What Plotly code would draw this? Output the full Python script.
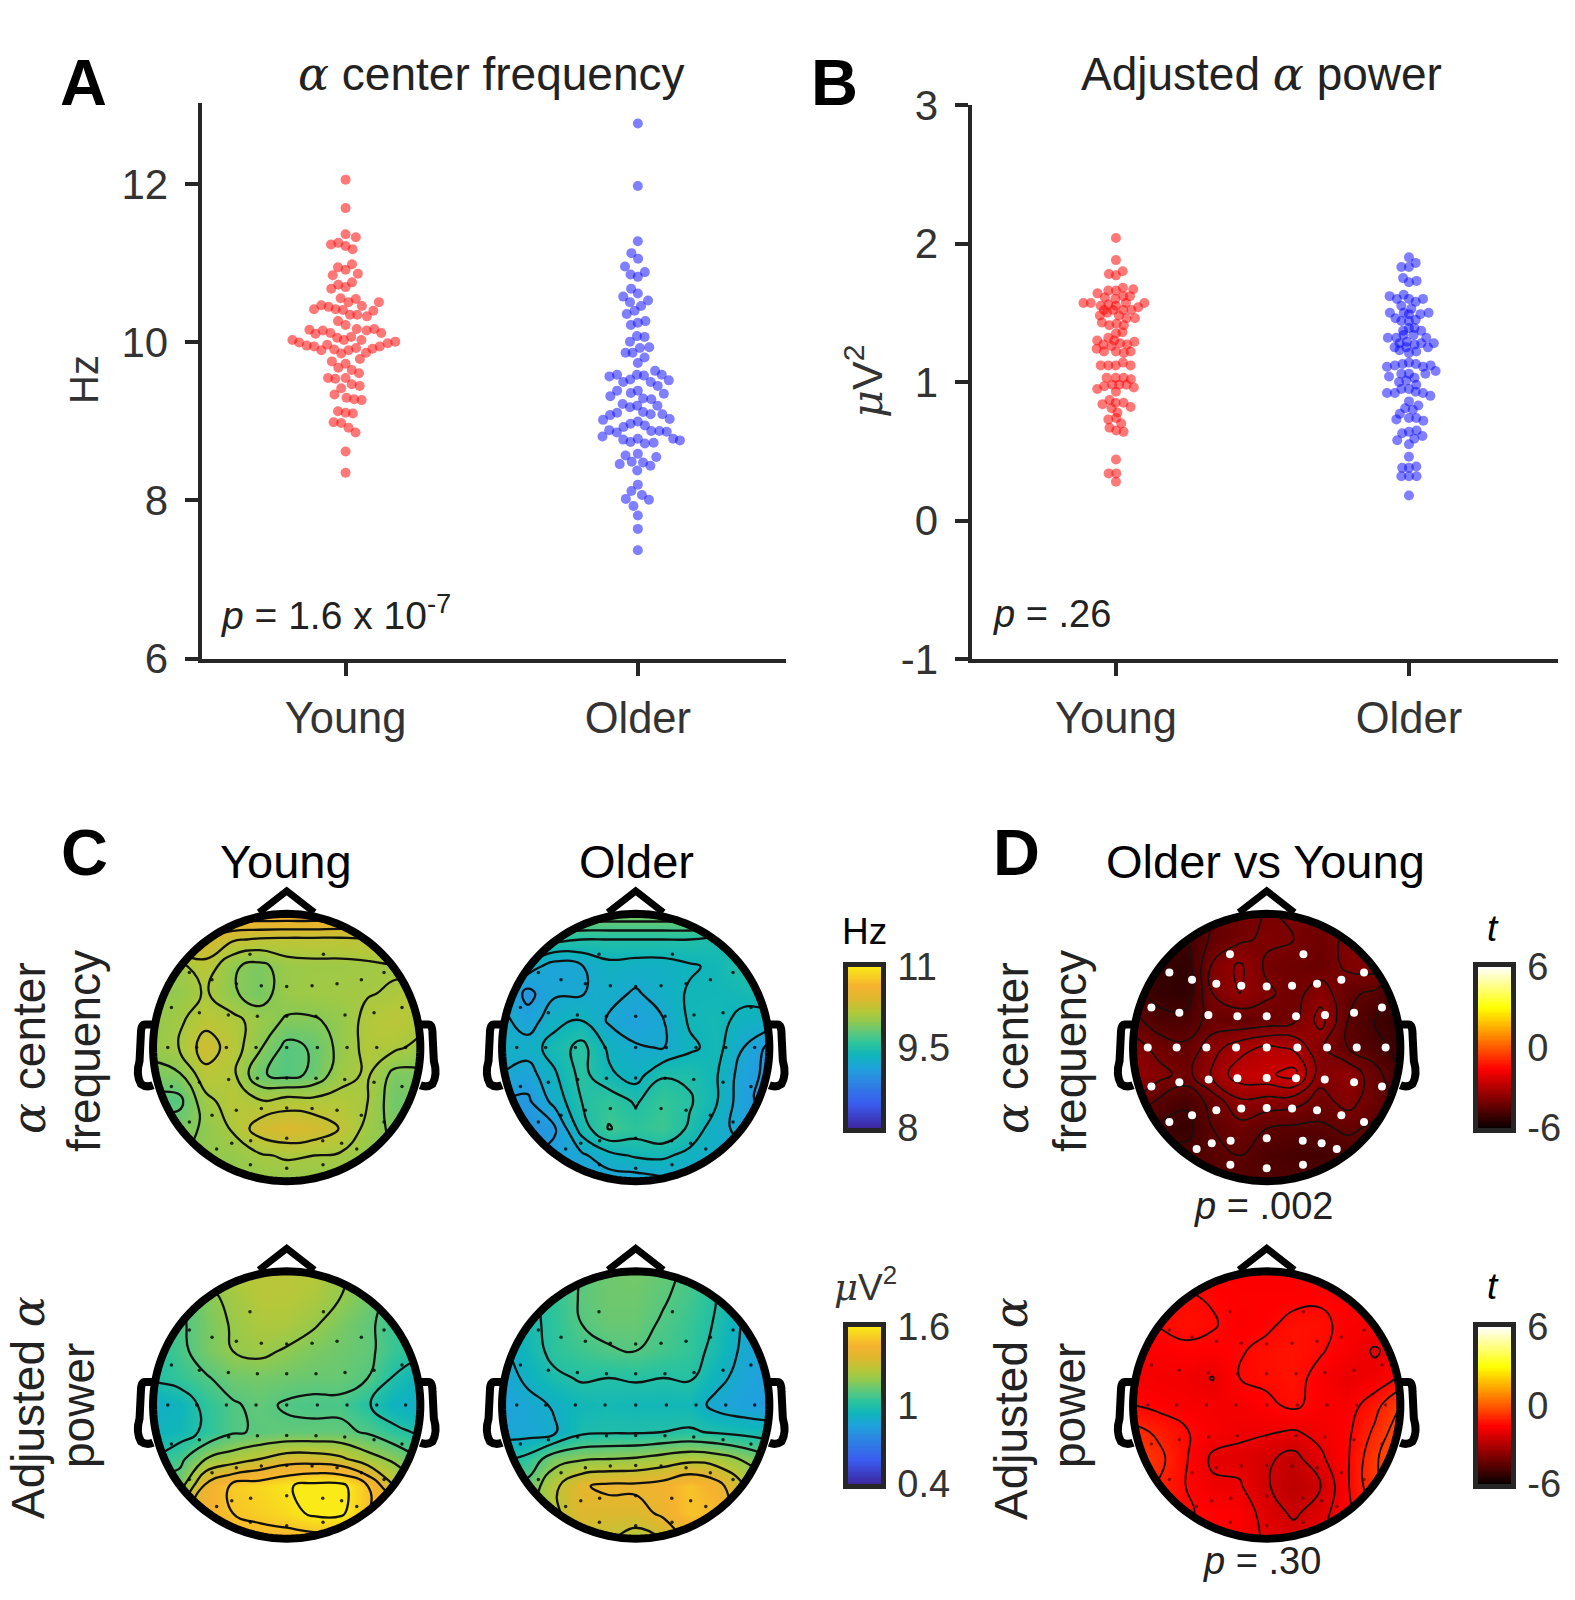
import numpy as np
import plotly.graph_objects as go

FONT = "Liberation Sans"
TICK_COLOR = "#333333"
LINE_COLOR = "#262626"
W, H = 1575, 1600

GROUPS = ["Young", "Older"]

# panel A, alpha center frequency (Hz) and swarm offset in x units
young_freq = [12.06, 11.70, 11.37, 11.33, 11.24, 11.26, 11.22, 11.18, 10.99, 10.95, 10.92, 10.87, 10.85, 10.76, 10.73,
              10.70, 10.68, 10.56, 10.55, 10.51, 10.51, 10.46, 10.47, 10.42, 10.45, 10.42, 10.41, 10.40, 10.35, 10.35,
              10.33, 10.27, 10.22, 10.17, 10.16, 10.15, 10.15, 10.17, 10.11, 10.12, 10.12, 10.06, 10.07, 10.03, 10.03,
              10.00, 10.03, 10.01, 9.99, 9.97, 9.96, 9.95, 9.95, 9.92, 9.90, 9.93, 9.90, 9.91, 9.86, 9.87,
              9.79, 9.76, 9.73, 9.68, 9.65, 9.61, 9.55, 9.54, 9.55, 9.47, 9.45, 9.42, 9.34, 9.30, 9.28,
              9.27, 9.13, 9.11, 9.10, 8.99, 8.98, 8.92, 8.86, 8.62, 8.35]
young_freq_off = [0, 0, 0, .035, -.050, -.025, 0, .024, .022, -.026, 0, .042, -.044, .022, -.025,
                  0, -.049, -.017, .035, .010, .114, .056, -.083, -.108, -.058, -.034, -.009, .095, .015, .040,
                  .073, -.026, 0, .038, -.124, -.078, .072, .098, -.103, -.052, .122, -.029, .019, -.006, -.182,
                  -.159, .054, .170, .144, -.063, -.133, -.108, .117, .092, -.083, .036, .010, -.039, -.015, .070,
                  .049, -.047, 0, -.025, .021, .046, -.060, -.035, 0, .021, .048, -.015, -.038, .003, .029,
                  .055, -.026, 0, .025, -.041, -.015, .010, .034, 0, 0]
older_freq = [12.77, 11.98, 11.28, 11.13, 11.06, 10.96, 10.89, 10.86, 10.83, 10.68, 10.62, 10.58, 10.53, 10.51, 10.46,
              10.40, 10.36, 10.27, 10.25, 10.22, 10.08, 10.07, 10.01, 9.93, 9.94, 9.87, 9.87, 9.81, 9.74, 9.64,
              9.59, 9.59, 9.57, 9.59, 9.58, 9.52, 9.53, 9.50, 9.50, 9.45, 9.39, 9.32, 9.39, 9.36, 9.35,
              9.29, 9.28, 9.22, 9.20, 9.18, 9.20, 9.12, 9.09, 9.11, 9.09, 9.08, 9.03, 9.02, 9.00, 8.97,
              8.93, 8.95, 8.88, 8.88, 8.87, 8.89, 8.86, 8.81, 8.78, 8.76, 8.77, 8.78, 8.74, 8.72, 8.73,
              8.57, 8.59, 8.55, 8.49, 8.46, 8.48, 8.44, 8.38, 8.20, 8.12, 8.07, 8.02, 8.01, 7.93, 7.81, 7.64, 7.37]
older_freq_off = [0, 0, 0, -.022, .001, -.044, .024, -.025, 0, -.023, 0, -.050, .035, -.027, .011,
                  -.011, -.038, .026, 0, -.024, -.003, .023, -.027, .007, .039, -.042, -.018, .023, 0, .059,
                  .082, -.071, -.097, -.003, .021, .106, -.026, -.050, .044, .068, -.071, -.094, 0, -.024, .089,
                  .018, .046, -.052, .067, -.027, -.002, .018, .044, -.071, .084, -.095, .109, -.119, 0, -.025,
                  -.049, .024, .046, .074, .099, -.098, -.072, -.121, .121, .144, -.050, 0, -.025, .024, .054,
                  -.042, 0, .063, -.021, -.062, .018, .043, -.002, 0, -.022, .014, -.041, .038, -.015, 0, 0, 0]

# panel B, adjusted alpha power
young_power = [2.04, 1.88, 1.78, 1.77, 1.80, 1.64, 1.66, 1.66, 1.68, 1.67, 1.61, 1.62, 1.57, 1.57, 1.60,
               1.62, 1.57, 1.55, 1.56, 1.55, 1.57, 1.54, 1.52, 1.52, 1.52, 1.52, 1.48, 1.50, 1.48, 1.46,
               1.46, 1.43, 1.41, 1.42, 1.41, 1.35, 1.36, 1.30, 1.32, 1.30, 1.29, 1.28, 1.27, 1.27, 1.24,
               1.22, 1.26, 1.22, 1.21, 1.22, 1.12, 1.12, 1.12, 1.14, 1.12, 1.03, 1.03, 1.03, 1.02, .97,
               .95, .98, .98, .98, .96, .93, .84, .87, .85, .85, .82, .81, .78, .74, .73,
               .70, .67, .65, .64, .44, .34, .34, .28]
young_power_off = [0, 0, -.024, 0, .023, -.063, -.026, 0, .024, .059, -.038, .048, -.111, -.086, -.002,
                   .025, .097, -.052, -.026, 0, .034, .076, -.041, -.009, .025, .053, -.055, -.030, .010, .036,
                   .065, -.048, -.023, .002, .027, 0, .022, -.064, -.026, -.006, .063, .014, -.043, .038, -.066,
                   -.041, -.015, 0, .027, .050, -.052, -.026, -.001, .024, .050, -.032, -.001, .026, .051, -.040,
                   -.064, -.013, .011, .036, .061, 0, -.046, -.022, -.001, .026, .050, -.015, .005, .001, -.026,
                   .018, -.022, .001, .026, 0, -.025, .001, 0]
older_power = [1.90, 1.86, 1.83, 1.83, 1.75, 1.72, 1.73, 1.62, 1.63, 1.60, 1.60, 1.60, 1.58, 1.55, 1.53,
               1.50, 1.50, 1.50, 1.49, 1.49, 1.46, 1.44, 1.44, 1.45, 1.39, 1.39, 1.37, 1.37, 1.32, 1.32,
               1.34, 1.34, 1.32, 1.28, 1.28, 1.29, 1.28, 1.25, 1.25, 1.25, 1.27, 1.23, 1.22, 1.21, 1.11,
               1.12, 1.13, 1.14, 1.13, 1.11, 1.12, 1.08, 1.04, 1.06, 1.06, 1.06, 1.03, 1.00, 1.01, .98,
               .92, .92, .95, .95, .93, .92, .90, .86, .83, .81, .80, .77, .73, .74, .74,
               .72, .63, .64, .65, .61, .58, .59, .55, .46, .38, .39, .38, .32, .32, .32, .18]
older_power_off = [0, .023, -.026, 0, -.020, 0, .026, -.066, -.018, -.041, .048, 0, .023, -.026, .008,
                   -.065, .067, -.018, .039, 0, -.046, -.026, 0, .023, 0, .019, .042, -.020, -.072, -.043,
                   -.018, .016, .059, .085, -.032, -.007, .042, -.049, .065, -.009, .019, -.032, .025, 0, -.075,
                   -.048, -.022, 0, .024, .048, .074, .091, -.068, -.026, 0, .056, .019, -.034, -.009, .025,
                   -.075, -.048, -.026, 0, .023, .048, .073, 0, .032, -.013, .013, -.031, -.043, 0, .025,
                   .049, -.023, 0, .026, .046, -.040, .018, 0, 0, -.023, .025, 0, -.026, 0, .026, 0]

# scalp maps, rows from front of the head to the back, 11 x 11
map_grid = [-1, -.8, -.6, -.4, -.2, 0, .2, .4, .6, .8, 1]
freq_young_map = [
    [10.6, 10.6, 10.65, 10.68, 10.7, 10.7, 10.7, 10.68, 10.65, 10.6, 10.6],
    [10.5, 10.5, 10.38, 10.27, 10.23, 10.22, 10.22, 10.22, 10.25, 10.3, 10.3],
    [10.0, 10.05, 10.2, 9.97, 9.9, 10.03, 10.05, 10.05, 10.06, 10.08, 10.0],
    [10.0, 10.0, 10.12, 9.97, 9.88, 10.03, 10.06, 10.07, 10.09, 10.12, 10.2],
    [10.0, 10.07, 10.2, 10.15, 10.03, 9.93, 9.93, 10.0, 10.15, 10.2, 10.15],
    [10.0, 10.1, 10.33, 10.18, 9.97, 9.75, 9.82, 10.0, 10.15, 10.13, 10.05],
    [9.9, 9.93, 10.2, 10.14, 9.82, 9.75, 9.83, 10.05, 10.12, 9.9, 9.92],
    [9.75, 9.75, 10.05, 10.18, 10.12, 10.17, 10.15, 10.15, 10.1, 9.85, 9.9],
    [9.9, 9.9, 9.97, 10.12, 10.33, 10.4, 10.36, 10.24, 10.05, 9.9, 9.9],
    [9.95, 9.95, 10.0, 10.0, 10.08, 10.12, 10.1, 10.08, 10.0, 9.95, 9.95],
    [10.0, 10.0, 10.0, 10.0, 10.0, 10.0, 10.0, 10.0, 10.0, 10.0, 10.0],
]
freq_older_map = [
    [9.9, 9.9, 9.92, 9.95, 9.95, 9.95, 9.95, 9.95, 9.92, 9.8, 9.7],
    [9.6, 9.6, 9.55, 9.5, 9.5, 9.5, 9.5, 9.5, 9.45, 9.4, 9.35],
    [9.3, 9.28, 9.12, 9.19, 9.3, 9.28, 9.28, 9.33, 9.38, 9.5, 9.5],
    [9.25, 9.0, 9.18, 9.19, 9.25, 9.18, 9.27, 9.37, 9.37, 9.4, 9.45],
    [9.25, 9.12, 9.3, 9.36, 9.18, 9.1, 9.19, 9.37, 9.4, 9.3, 9.3],
    [9.28, 9.27, 9.42, 9.55, 9.32, 9.22, 9.19, 9.32, 9.4, 9.2, 9.0],
    [9.2, 9.13, 9.33, 9.55, 9.38, 9.28, 9.48, 9.47, 9.36, 9.12, 9.0],
    [9.05, 9.02, 9.25, 9.5, 9.6, 9.48, 9.62, 9.52, 9.36, 9.1, 8.98],
    [9.0, 8.98, 9.03, 9.42, 9.66, 9.58, 9.65, 9.47, 9.25, 9.15, 9.2],
    [9.0, 9.0, 9.1, 9.17, 9.3, 9.37, 9.38, 9.3, 9.25, 9.25, 9.2],
    [9.0, 9.0, 9.05, 9.05, 9.1, 9.1, 9.15, 9.2, 9.2, 9.2, 9.2],
]
power_young_map = [
    [1.05, 1.1, 1.22, 1.26, 1.28, 1.28, 1.27, 1.22, 1.15, 1.05, 1.0],
    [1.0, 1.08, 1.17, 1.23, 1.27, 1.27, 1.25, 1.2, 1.15, 1.05, 1.0],
    [1.0, 1.08, 1.15, 1.21, 1.25, 1.25, 1.21, 1.16, 1.12, 1.05, 1.0],
    [1.0, 1.07, 1.15, 1.2, 1.22, 1.19, 1.16, 1.14, 1.12, 1.05, 1.02],
    [1.0, 1.04, 1.09, 1.14, 1.15, 1.14, 1.13, 1.13, 1.1, .99, .92],
    [.9, .93, 1.03, 1.09, 1.12, 1.09, 1.08, 1.08, 1.01, .92, .9],
    [.93, .95, 1.02, 1.09, 1.11, 1.12, 1.12, 1.12, 1.09, 1.03, .98],
    [1.0, 1.07, 1.2, 1.25, 1.3, 1.35, 1.35, 1.32, 1.24, 1.18, 1.1],
    [1.2, 1.15, 1.42, 1.52, 1.55, 1.59, 1.63, 1.63, 1.5, 1.3, 1.2],
    [1.3, 1.35, 1.45, 1.5, 1.53, 1.56, 1.62, 1.62, 1.5, 1.4, 1.3],
    [1.3, 1.35, 1.4, 1.45, 1.45, 1.45, 1.45, 1.45, 1.4, 1.35, 1.3],
]
power_older_map = [
    [.95, .98, 1.05, 1.1, 1.14, 1.15, 1.13, 1.08, 1.0, .9, .85],
    [.93, .97, 1.04, 1.11, 1.14, 1.14, 1.11, 1.07, 1.0, .92, .87],
    [.92, .97, 1.03, 1.1, 1.13, 1.13, 1.09, 1.05, .99, .89, .85],
    [.88, .95, 1.03, 1.06, 1.09, 1.1, 1.07, 1.04, .97, .88, .84],
    [.85, .92, .98, 1.01, 1.0, 1.01, 1.0, 1.01, .93, .86, .83],
    [.84, .87, .91, .95, .96, .95, .95, .95, .87, .84, .83],
    [.87, .86, .89, .98, .99, .99, 1.0, 1.01, .99, .97, .95],
    [.97, 1.03, 1.16, 1.19, 1.2, 1.21, 1.24, 1.27, 1.25, 1.19, 1.12],
    [1.1, 1.13, 1.28, 1.39, 1.42, 1.42, 1.44, 1.5, 1.44, 1.3, 1.2],
    [1.1, 1.15, 1.28, 1.37, 1.36, 1.36, 1.42, 1.5, 1.48, 1.3, 1.2],
    [1.1, 1.15, 1.25, 1.3, 1.3, 1.25, 1.3, 1.4, 1.4, 1.3, 1.2],
]
freq_t_map = [
    [-5, -5, -4.8, -4.5, -4.2, -4, -4, -4.2, -4, -4, -4.5],
    [-5, -5.1, -5, -4.4, -4.1, -3.9, -4, -4.2, -3.9, -3.8, -4],
    [-5, -5.2, -5.3, -3.9, -3.4, -4.1, -4.2, -4.3, -3.9, -3.8, -4.5],
    [-4.8, -5.2, -5.3, -4, -3.5, -3.9, -4.2, -3.7, -4.4, -4.6, -5],
    [-4.3, -4.8, -4.8, -4.3, -4.4, -4.3, -4.1, -3.3, -4.5, -5, -5.3],
    [-3.7, -4.2, -4.4, -3.7, -3.2, -2.9, -3.1, -3.9, -4.5, -4.8, -5.2],
    [-3.5, -3.8, -4.2, -3.4, -2.7, -2.6, -2.3, -3.8, -3.6, -4.3, -5],
    [-4, -4.6, -4.9, -4.3, -3.6, -3.7, -3.8, -4.2, -3.8, -4.3, -4.7],
    [-4.6, -5, -5.2, -4.5, -4.2, -4.5, -4.6, -4.6, -4.4, -4.6, -4.6],
    [-4.6, -4.7, -4.8, -4.6, -4.5, -4.8, -4.9, -5, -4.8, -4.6, -4.5],
    [-4.7, -4.7, -4.7, -4.7, -4.7, -4.7, -4.7, -4.7, -4.7, -4.7, -4.7],
]
power_t_map = [
    [-1.7, -1.7, -1.7, -1.7, -1.7, -1.7, -1.7, -1.7, -1.7, -1.7, -1.7],
    [-1.6, -1.5, -1.45, -1.55, -1.65, -1.65, -1.65, -1.6, -1.65, -1.7, -1.7],
    [-1.6, -1.47, -1.35, -1.45, -1.7, -1.6, -1.35, -1.35, -1.7, -1.75, -1.7],
    [-1.7, -1.7, -1.6, -1.65, -1.55, -1.35, -1.3, -1.45, -1.75, -2.05, -1.8],
    [-1.75, -1.8, -1.85, -2.02, -1.5, -1.4, -1.3, -1.7, -2.0, -1.85, -1.4],
    [-1.5, -1.65, -1.75, -1.8, -1.8, -1.6, -1.4, -1.7, -1.75, -1.2, -.4],
    [-.8, -1.1, -1.45, -1.75, -1.9, -1.95, -2.05, -1.85, -1.6, -.9, -.1],
    [-.4, -.85, -1.45, -2.1, -2.15, -2.4, -2.7, -2.1, -1.55, -.6, .1],
    [-.8, -1.05, -1.5, -1.9, -1.95, -2.45, -2.8, -2.5, -1.55, -.6, -.3],
    [-1.2, -1.3, -1.45, -1.6, -1.7, -2.2, -2.6, -2.2, -1.6, -1.0, -.8],
    [-1.4, -1.4, -1.5, -1.55, -1.7, -2.1, -2.2, -2.0, -1.6, -1.3, -1.2],
]

# electrode positions in head units, left half, the right one mirrors it
side_x = [-.272, -.721, -.553, -.373, -.188, -.854, -.647, -.432, -.217, -.881, -.667, -.447, -.227,
          -.854, -.647, -.430, -.217, -.721, -.553, -.373, -.188, -.519, -.407, -.267, -.269]
side_y = [.691, .556, .501, .472, .457, .296, .257, .240, .232, 0, 0, 0, 0,
          -.289, -.257, -.237, -.227, -.551, -.501, -.464, -.452, -.751, -.709, -.691, -.869]
mid_y = [.452, .232, 0, -.225, -.449, -.672, -.894]
sensor_x = side_x + [-v for v in side_x] + [0] * len(mid_y)
sensor_y = side_y + side_y + mid_y

parula = [[0, "#3d27a0"], [.15, "#3a5cf0"], [.3, "#2a8ae0"], [.37, "#1fa2dc"], [.45, "#0fb5bb"], [.53, "#2fc49a"],
          [.6, "#62c878"], [.66, "#90c950"], [.72, "#b4c83a"], [.8, "#dcb82e"], [.88, "#f6b22f"], [1, "#f9ea18"]]
hot = [[0, "#0a0000"], [.365, "#ff0000"], [.746, "#ffff00"], [1, "#ffffff"]]

MATH = "font-family:'DejaVu Serif';font-style:italic"
ALPHA = f"<span style=\"{MATH}\">α</span>"
MU = f"<span style=\"{MATH}\">μ</span>"

fig = go.Figure()
layout = dict(width=W, height=H, margin=dict(l=0, r=0, t=0, b=0, autoexpand=False), paper_bgcolor="white",
              plot_bgcolor="white", showlegend=False, font=dict(family=FONT), autosize=False)
shapes = []
notes = []
axis_id = 0


def new_axes(x0, x1, y0, y1):
    """Pixel box of the page to a fresh pair of axes, returns the trace refs and layout keys."""
    global axis_id
    axis_id += 1
    n = "" if axis_id == 1 else str(axis_id)
    xdom = [x0 / W, x1 / W]
    ydom = [1 - y1 / H, 1 - y0 / H]
    return f"x{n}", f"y{n}", f"xaxis{n}", f"yaxis{n}", xdom, ydom


def note(text, px, py, size=46, color="black", angle=0, anchor="center"):
    notes.append(dict(text=text, x=px / W, y=1 - py / H, xref="paper", yref="paper", showarrow=False,
                      xanchor=anchor, yanchor="middle", textangle=angle, font=dict(family=FONT, size=size, color=color)))


def swarm_panel(x0, x1, y0, y1, yrange, ytick, series):
    xr, yr, xk, yk, xdom, ydom = new_axes(x0, x1, y0, y1)
    for center, vals, off, color in series:
        fig.add_trace(go.Scatter(x=[center + o for o in off], y=vals, mode="markers", xaxis=xr, yaxis=yr,
                                 marker=dict(size=10, color=color, line=dict(width=0)), hoverinfo="skip"))
    common = dict(showgrid=False, zeroline=False, showline=True, linecolor=LINE_COLOR, linewidth=4, ticks="outside",
                  ticklen=13, tickwidth=4, tickcolor=LINE_COLOR)
    layout[xk] = dict(domain=xdom, range=[.007, 2.007], tickvals=[.5, 1.5], ticktext=GROUPS, anchor=yr, ticklabelstandoff=5,
                      tickfont=dict(family=FONT, size=43.5, color=TICK_COLOR), **common)
    layout[yk] = dict(domain=ydom, range=yrange, tickvals=ytick, ticktext=[str(t) for t in ytick], anchor=xr,
                      ticklabelstandoff=8, tickfont=dict(family=FONT, size=42, color=TICK_COLOR), **common)


def head_map(cx, cy, z, zrange, scale, levels, dots, line_w=2.3, line_color="#111111"):
    r = 135
    xr, yr, xk, yk, xdom, ydom = new_axes(cx - 1.2 * r, cx + 1.2 * r, cy - 1.2 * r, cy + 1.2 * r)
    fig.add_trace(go.Contour(x=map_grid, y=map_grid, z=z[::-1], xaxis=xr, yaxis=yr, colorscale=scale, zmin=zrange[0],
                             zmax=zrange[1], showscale=False, autocontour=False, hoverinfo="skip",
                             contours=dict(coloring="heatmap", start=levels[0], end=levels[1], size=levels[2]),
                             line=dict(color=line_color, width=line_w, smoothing=1.3)))
    fig.add_trace(go.Scatter(x=sensor_x, y=sensor_y, mode="markers", xaxis=xr, yaxis=yr, hoverinfo="skip",
                             marker=dict(size=dots[0], color=dots[1], line=dict(width=0))))
    hidden = dict(visible=False, range=[-1.2, 1.2], fixedrange=True)
    layout[xk] = dict(domain=xdom, anchor=yr, **hidden)
    layout[yk] = dict(domain=ydom, anchor=xr, **hidden)

    ang = np.linspace(0, 2 * np.pi, 181)
    ring = " L ".join(f"{.99 * np.cos(a):.4f} {.99 * np.sin(a):.4f}" for a in ang)
    mask = f"M -1.2 -1.2 L 1.2 -1.2 L 1.2 1.2 L -1.2 1.2 Z M {ring} Z"
    outline = dict(xref=xr, yref=yr, type="path", layer="above")
    shapes.append(dict(path=mask, fillcolor="white", line=dict(width=0), **outline))
    shapes.append(dict(path=f"M {ring} Z", line=dict(color="black", width=8), **outline))
    shapes.append(dict(path="M -.205 1.0 L 0 1.16 L .205 1.0", line=dict(color="black", width=7), **outline))
    for s in (-1, 1):
        ear = (f"M {s * .97} .17 L {s * 1.05} .17 Q {s * 1.08} .17 {s * 1.08} .1 "
               f"L {s * 1.09} -.1 Q {s * 1.12} -.2 {s * 1.08} -.27 Q {s * 1.04} -.3 {s * .99} -.28")
        shapes.append(dict(path=ear, line=dict(color="black", width=8), **outline))


def color_bar(x0, x1, y0, y1, zrange, ticks, labels, scale):
    xr, yr, xk, yk, xdom, ydom = new_axes(x0, x1, y0, y1)
    ramp = np.linspace(zrange[0], zrange[1], 128)
    fig.add_trace(go.Heatmap(z=ramp[:, None], y=ramp, xaxis=xr, yaxis=yr, colorscale=scale, zmin=zrange[0], zmax=zrange[1],
                             showscale=False, hoverinfo="skip"))
    frame = dict(showline=True, mirror=True, linecolor=LINE_COLOR, linewidth=4.5, showgrid=False, zeroline=False)
    layout[xk] = dict(domain=xdom, anchor=yr, showticklabels=False, ticks="", **frame)
    layout[yk] = dict(domain=ydom, anchor=xr, side="right", range=zrange, tickvals=ticks, ticktext=labels, ticks="outside",
                      ticklen=4, tickcolor="rgba(0,0,0,0)", tickfont=dict(family=FONT, size=38, color=TICK_COLOR), **frame)


RED = "rgba(255,0,0,0.53)"
BLUE = "rgba(0,0,255,0.5)"
swarm_panel(201.5, 786, 103, 658.5, [6, 13.03], [6, 8, 10, 12],
            [(.5, young_freq, young_freq_off, RED), (1.5, older_freq, older_freq_off, BLUE)])
swarm_panel(971.5, 1557.5, 105, 659, [-1, 3], [-1, 0, 1, 2, 3],
            [(.5, young_power, young_power_off, RED), (1.5, older_power, older_power_off, BLUE)])

ROW1, ROW2 = 1047.5, 1405
DOT = (3.5, "rgba(0,0,0,0.8)")
head_map(286.7, ROW1, freq_young_map, [8, 11], parula, (9.8, 10.7, .15), DOT)
head_map(635.7, ROW1, freq_older_map, [8, 11], parula, (9.05, 9.95, .15), DOT)
head_map(1266.7, ROW1, freq_t_map, [-6, 6], hot, (-5, -2.5, .5), (8, "white"), line_w=1.6)
head_map(286.7, ROW2, power_young_map, [.4, 1.6], parula, (1.0, 1.6, .1), DOT)
head_map(635.7, ROW2, power_older_map, [.4, 1.6], parula, (.9, 1.4, .1), DOT)
head_map(1266.7, ROW2, power_t_map, [-6, 6], hot, (-2.5, 0, .5), (3.5, "rgba(60,0,0,0.55)"), line_w=1.8)

color_bar(848, 881, 967, 1128, [8, 11], [8, 9.5, 11], ["8", "9.5", "11"], parula)
color_bar(848, 881, 1327, 1484, [.4, 1.6], [.4, 1, 1.6], ["0.4", "1", "1.6"], parula)
color_bar(1478, 1511, 967, 1128, [-6, 6], [-6, 0, 6], ["-6", "0", "6"], hot)
color_bar(1478, 1511, 1327, 1484, [-6, 6], [-6, 0, 6], ["-6", "0", "6"], hot)

# panel letters
for letter, px, py in [("A", 58, 82), ("B", 809, 82), ("C", 59, 853), ("D", 991, 853)]:
    note(f"<b>{letter}</b>", px, py, size=65, anchor="left")

note(f"{ALPHA} center frequency", 491, 74, color="#222222")
note(f"Adjusted {ALPHA} power", 1261, 74, color="#222222")
note("Hz", 84, 380, size=40, color=TICK_COLOR, angle=-90)
note(f"{MU}V<sup>2</sup>", 864, 382, size=43, color=TICK_COLOR, angle=-90)
note("<i>p</i> = 1.6 x 10<sup>-7</sup>", 219, 612, size=39, color="#222222", anchor="left")
note("<i>p</i> = .26", 991, 614, size=38, color="#222222", anchor="left")

note("Young", 286, 861, size=47)
note("Older", 636, 861, size=47)
note("Older vs Young", 1265, 861, size=47)
note("Hz", 864, 931, size=37)
note(f"{MU}V<sup>2</sup>", 865, 1285, size=37, color=TICK_COLOR)
note("<i>t</i>", 1493, 929, size=37)
note("<i>t</i>", 1493, 1286, size=37)
note("<i>p</i> = .002", 1263, 1206, size=38, color="#222222")
note("<i>p</i> = .30", 1262, 1561, size=38, color="#222222")

for left, right in [(29, 84), (1012, 1070)]:
    note(f"{ALPHA} center", left, 1048, angle=-90, color="#222222")
    note("frequency", right, 1051, angle=-90, color="#222222")
for left, right in [(28, 78), (1011, 1069)]:
    note(f"Adjusted {ALPHA}", left, 1408, angle=-90, color="#222222")
    note("power", right, 1406, angle=-90, color="#222222")

fig.update_layout(shapes=shapes, annotations=notes, **layout)
# drop the page's default body margin, the figure takes the whole window
fig.write_html("out.html", config={"displayModeBar": False}, post_script="document.body.style.margin = '0';")
